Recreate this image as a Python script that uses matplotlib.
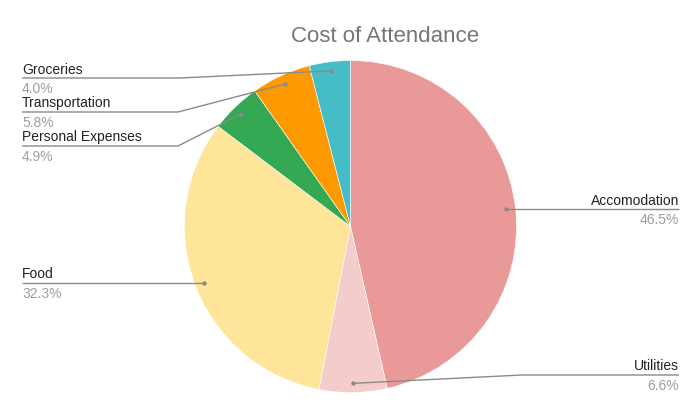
import numpy as np
import matplotlib
matplotlib.use("Agg")
import matplotlib.pyplot as plt

plt.rcParams['font.family'] = ['Liberation Sans', 'DejaVu Sans']

# data (clockwise from 12 o'clock)
labels = ['Accomodation', 'Utilities', 'Food', 'Personal Expenses', 'Transportation', 'Groceries']
shares = [46.5, 6.6, 32.3, 4.9, 5.8, 4.0]
colors = ['#EA9999', '#F4CCCC', '#FFE599', '#34A853', '#FF9900', '#46BDC6']

# layout in pixel coords: (side, elbow x, underline y, end x)
label_layout = {
    'Accomodation':      ('right', None, None, 679),
    'Utilities':         ('right', 522, 376, 679),
    'Food':              ('left', None, None, 22),
    'Personal Expenses': ('left', 178, 147, 22),
    'Transportation':    ('left', 178, 113, 22),
    'Groceries':         ('left', 180, 79, 22),
}

W, H = 700, 414
cx, cy, R = 350.5, 227.5, 166

fig = plt.figure(figsize=(W / 100, H / 100), dpi=100)
ax = fig.add_axes([0, 0, 1, 1])
ax.set_xlim(0, W)
ax.set_ylim(H, 0)
ax.set_aspect('equal')
ax.axis('off')

# y axis is inverted, so counterclock=True runs clockwise on screen
wedges, _ = ax.pie(shares, colors=colors, startangle=-90, counterclock=True,
                   center=(cx, cy), radius=R, normalize=True,
                   wedgeprops=dict(edgecolor='white', linewidth=0.4))
ax.set_xlim(0, W)
ax.set_ylim(H, 0)

total = sum(shares)
cum = 0.0
line_c = '#8a8a8a'
for lab, val in zip(labels, shares):
    mid = -90 + 360 * (cum + val / 2) / total
    cum += val
    a = np.deg2rad(mid)
    dx, dy = cx + 0.945 * R * np.cos(a), cy + 0.945 * R * np.sin(a)
    side, ex, ey, end = label_layout[lab]
    if ex is None:
        ex, ey = dx, dy
    ax.plot([dx, ex, end], [dy, ey, ey], color=line_c, lw=1.0, solid_capstyle='butt')
    ax.plot(dx, dy, 'o', color=line_c, ms=3.2, mec='none')
    ha = 'left' if side == 'left' else 'right'
    ax.text(end, ey - 2.5, lab, ha=ha, va='bottom', fontsize=10, color='#222222')
    ax.text(end, ey + 3, f'{val:.1f}%', ha=ha, va='top', fontsize=10, color='#9e9e9e')

ax.text(385, 42, 'Cost of Attendance', ha='center', va='baseline',
        fontsize=16, color='#757575')

fig.savefig('out.png', dpi=100, facecolor='white')
